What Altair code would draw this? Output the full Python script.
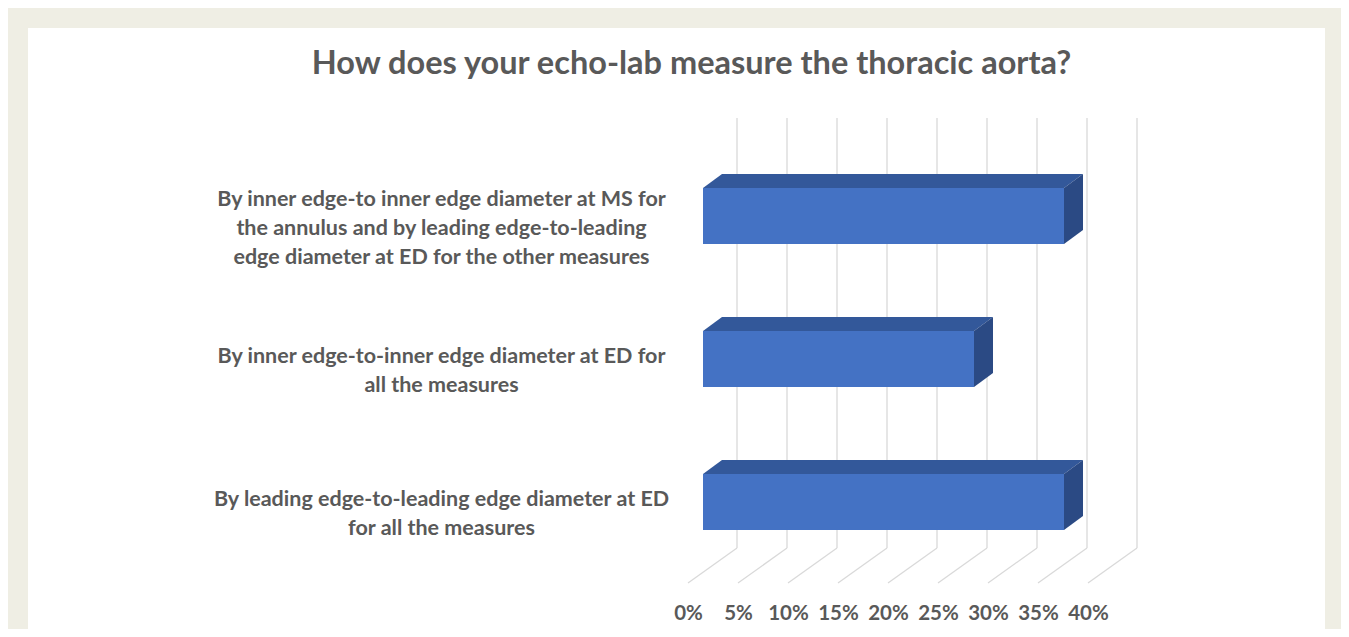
import json
import altair as alt
import pandas as pd

# ---------------- data ----------------
TITLE = "How does your echo-lab measure the thoracic aorta?"
CATEGORY_LINES = [
    ["By inner edge-to inner edge diameter at MS for",
     "the annulus and by leading edge-to-leading",
     "edge diameter at ED for the other measures"],
    ["By inner edge-to-inner edge diameter at ED for",
     "all the measures"],
    ["By leading edge-to-leading edge diameter at ED",
     "for all the measures"],
]
VALUES = [36.1, 27.1, 36.1]          # percent
TICKS = [0, 5, 10, 15, 20, 25, 30, 35, 40]

# ---------------- layout / style ----------------
W, H = 1297, 601                      # plot (panel) size
PX_PER_PCT = 10.0
X_MIN = -67.5
X_DOMAIN = [X_MIN, X_MIN + W / PX_PER_PCT]
ROW_PX = 143.0
ROW0_PX = 188.0
PY = 1.0 / ROW_PX                     # row units per pixel
Y_DOMAIN = [-ROW0_PX * PY, (H - ROW0_PX) * PY]

BAR_HALF = 28 * PY
DEPTH_DX = 1.9                        # percent units
DEPTH_DY = 14 * PY
GRID_BACK_DX = 3.4
GRID_FRONT_DX = -1.5
GRID_TOP = -98 * PY
FLOOR_BACK = 332 * PY
FLOOR_FRONT = 367 * PY

LINE_H = 29
LABEL_SHIFT = 12

FONT = "Lato"
TEXT_COLOR = "#595959"
FRONT = "#4472C4"
TOP = "#33589A"
SIDE = "#2B4A84"
GRID = "#D9D9D9"
BG = "#EFEEE4"

xs = alt.Scale(domain=X_DOMAIN, nice=False, zero=False)
ys = alt.Scale(domain=Y_DOMAIN, nice=False, zero=False, reverse=True)

# ---------------- tables ----------------
grid_df = pd.DataFrame({
    "t": TICKS,
    "xb": [t + GRID_BACK_DX for t in TICKS],
    "xf": [t + GRID_FRONT_DX for t in TICKS],
    "ytop": GRID_TOP, "yback": FLOOR_BACK, "yfront": FLOOR_FRONT,
})

rows = list(range(len(VALUES)))
front_df = pd.DataFrame({
    "row": rows, "value": VALUES,
    "x0": 0.0,
    "y0": [r - BAR_HALF for r in rows],
    "y1": [r + BAR_HALF for r in rows],
})

top_rec, side_rec = [], []
for r, v in zip(rows, VALUES):
    top_rec.append({"k": r, "y": r - BAR_HALF, "x": 0.0, "x2": v})
    top_rec.append({"k": r, "y": r - BAR_HALF - DEPTH_DY, "x": DEPTH_DX, "x2": v + DEPTH_DX})
    side_rec.append({"k": r, "x": v, "y": r - BAR_HALF, "y2": r + BAR_HALF})
    side_rec.append({"k": r, "x": v + DEPTH_DX, "y": r - BAR_HALF - DEPTH_DY,
                     "y2": r + BAR_HALF - DEPTH_DY})
top_df = pd.DataFrame(top_rec)
side_df = pd.DataFrame(side_rec)

label_expr = json.dumps(CATEGORY_LINES) + "[datum.value]"
# vertically centre each multi-line block on its row
label_offset = {
    "condition": [
        {"test": f"datum.value === {i}",
         "value": LABEL_SHIFT - (len(lines) - 1) * LINE_H / 2}
        for i, lines in enumerate(CATEGORY_LINES)
    ],
    "value": LABEL_SHIFT,
}

x_axis = alt.Axis(values=TICKS, labelExpr="datum.value + '%'", domain=False, ticks=False,
                  tickSize=0, grid=False, title=None, orient="bottom",
                  labelFont=FONT, labelFontSize=20.5, labelFontWeight="bold",
                  labelColor=TEXT_COLOR, labelOffset=-15, offset=-28, labelPadding=2,
                  labelFlush=False, labelOverlap=False)
y_axis = alt.Axis(values=rows, labelExpr=label_expr, domain=False, ticks=False,
                  tickSize=0, grid=False, title=None, orient="left",
                  labelFont=FONT, labelFontSize=21.5, labelFontWeight="bold",
                  labelColor=TEXT_COLOR, labelAlign="center", labelBaseline="middle",
                  labelOffset=label_offset, offset=-413, labelPadding=0,
                  labelLineHeight=LINE_H, labelLimit=0, labelOverlap=False)

grid_v = alt.Chart(grid_df).mark_rule(color=GRID, strokeWidth=1.3).encode(
    x=alt.X("xb:Q", scale=xs, axis=x_axis),
    y=alt.Y("ytop:Q", scale=ys, axis=y_axis),
    y2="yback:Q",
)
grid_d = alt.Chart(grid_df).mark_rule(color=GRID, strokeWidth=1.3).encode(
    x=alt.X("xb:Q", scale=xs, axis=x_axis),
    y=alt.Y("yback:Q", scale=ys, axis=y_axis),
    x2="xf:Q",
    y2="yfront:Q",
)
top_face = alt.Chart(top_df).mark_area(orient="horizontal", color=TOP).encode(
    y=alt.Y("y:Q", scale=ys, axis=y_axis),
    x=alt.X("x:Q", scale=xs, axis=x_axis),
    x2="x2:Q",
    detail="k:N",
)
side_face = alt.Chart(side_df).mark_area(orient="vertical", color=SIDE).encode(
    x=alt.X("x:Q", scale=xs, axis=x_axis),
    y=alt.Y("y:Q", scale=ys, axis=y_axis),
    y2="y2:Q",
    detail="k:N",
)
front_face = alt.Chart(front_df).mark_rect(color=FRONT).encode(
    x=alt.X("x0:Q", scale=xs, axis=x_axis),
    x2="value:Q",
    y=alt.Y("y0:Q", scale=ys, axis=y_axis),
    y2="y1:Q",
)

chart = alt.layer(grid_v, grid_d, top_face, side_face, front_face).properties(
    width=W, height=H,
    title=alt.TitleParams(TITLE, font=FONT, fontSize=32.5, fontWeight="bold",
                          color=TEXT_COLOR, anchor="middle", frame="group",
                          offset=-52, dx=15),
    autosize=alt.AutoSizeParams(type="none"),
    padding={"left": 20, "top": 20, "right": 16, "bottom": 0},
    background=BG,
).configure_view(fill="white", strokeWidth=0)

chart.save("out.html", embed_options={"renderer": "svg", "actions": False})
